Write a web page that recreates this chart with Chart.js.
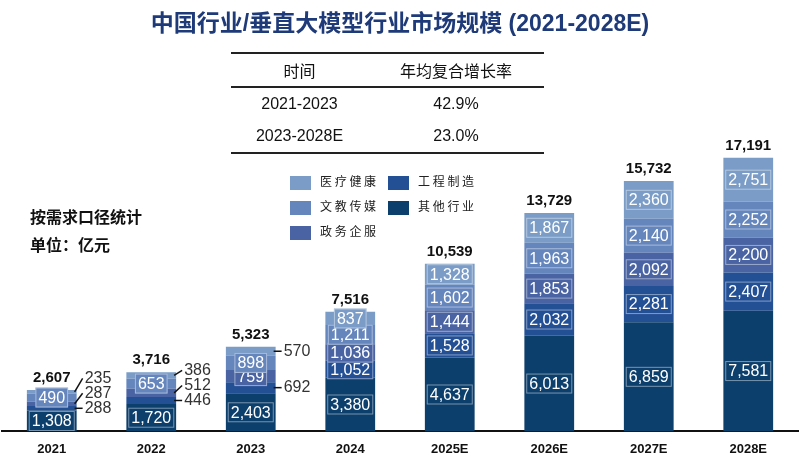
<!DOCTYPE html>
<html><head><meta charset="utf-8">
<script src="https://cdn.jsdelivr.net/npm/chart.js@4/dist/chart.umd.min.js"></script>
<style>
body{margin:0;background:#fff;font-family:"Noto Sans CJK SC","Liberation Sans",sans-serif;}
#wrap{position:relative;width:800px;height:459px;}
canvas{position:absolute;left:0;top:0;}
.t{position:absolute;white-space:nowrap;}
#title{left:0;width:800px;top:4px;text-align:center;font-size:23px;font-weight:bold;color:#1e3a78;font-family:"Liberation Sans","Noto Sans CJK SC",sans-serif;}
table{position:absolute;left:231px;top:52px;width:313px;border-collapse:collapse;font-family:"Liberation Sans","Noto Sans CJK SC",sans-serif;font-size:16px;color:#111;}
td{text-align:center;height:32px;padding:0;}
tr.h td{border-top:2px solid #222;border-bottom:2px solid #222;}
tr.l td{border-bottom:2px solid #222;}
.leg{position:absolute;font-size:12px;color:#222;font-family:"Noto Sans CJK SC",serif;}
.sw{display:inline-block;width:21px;height:14px;vertical-align:middle;margin-right:9px;}
.note{font-size:16px;font-weight:bold;color:#111;font-family:"Noto Sans CJK SC",serif;}
</style></head><body>
<div id="wrap">
<canvas id="c" width="800" height="459"></canvas>
<div id="title" class="t">中国行业/垂直大模型行业市场规模 (2021-2028E)</div>
<table>
<tr class="h"><td>时间</td><td>年均复合增长率</td></tr>
<tr><td>2021-2023</td><td>42.9%</td></tr>
<tr class="l"><td>2023-2028E</td><td>23.0%</td></tr>
</table>
<div id="legend"></div>
<div class="t note" style="left:30px;top:204px">按需求口径统计</div>
<div class="t note" style="left:30px;top:232px">单位：亿元</div>
</div>
<script>
const categories=["2021","2022","2023","2024","2025E","2026E","2027E","2028E"];
const other=[1308,1720,2403,3380,4637,6013,6859,7581];
const engineering=[288,446,692,1052,1528,2032,2281,2407];
const government=[287,512,759,1036,1444,1853,2092,2200];
const education=[490,653,898,1211,1602,1963,2140,2252];
const medical=[235,386,570,837,1328,1867,2360,2751];
const totals=[2607,3716,5323,7516,10539,13729,15732,17191];
const seriesNames=["其他行业","工程制造","政务企服","文教传媒","医疗健康"];
const colors=["#0c3f6c","#234f95","#4a64a3","#6585bd","#7a9cc6"];
const outside={0:[1,2,4],1:[1,2,4],2:[1,4]};

const lg=document.getElementById('legend');
const legPos=[[4,290,172],[3,290,197],[2,290,222],[1,388,172],[0,388,197]];
legPos.forEach(([i,x,y])=>{const d=document.createElement('div');d.className='t leg';d.style.left=x+'px';d.style.top=y+'px';d.innerHTML='<span class="sw" style="background:'+colors[i]+'"></span>'+seriesNames[i].split('').join(' ');lg.appendChild(d);});

const fmt=v=>v.toLocaleString('en-US');
const labelPlugin={id:'lbl',afterDatasetsDraw(ch){
  const c=ch.ctx;c.save();
  c.textBaseline='middle';
  ch.data.labels.forEach((_,j)=>{
    const out=outside[j]||[];let lastY=1e9;
    ch.data.datasets.forEach((ds,i)=>{
      const el=ch.getDatasetMeta(i).data[j];
      const cy=(el.y+el.base)/2;const t=fmt(ds.data[j]);
      c.font='16px "Liberation Sans", Arial';
      if(out.includes(i)){
        let y=Math.min(cy,lastY-15);lastY=y;
        const x0=el.x+el.width/2;
        c.strokeStyle='#111';c.lineWidth=1.5;c.beginPath();c.moveTo(x0-2,cy);c.lineTo(x0+6,y);c.stroke();
        c.fillStyle='#333';c.textAlign='left';c.fillText(t,x0+8,y);
      }else{
        const w=c.measureText(t).width+6;
        c.fillStyle=ds.backgroundColor;c.strokeStyle='rgba(255,255,255,0.45)';c.lineWidth=1;
        c.fillRect(el.x-w/2,cy-10,w,20);c.strokeRect(el.x-w/2+0.5,cy-9.5,w-1,19);
        c.fillStyle='#fff';c.textAlign='center';c.fillText(t,el.x,cy+1);
      }
    });
    const top=ch.getDatasetMeta(4).data[j];
    c.font='bold 15px "Liberation Sans", Arial';c.fillStyle='#111';c.textAlign='center';
    c.fillText(fmt(totals[j]),top.x,top.y-12);
  });
  c.restore();
}};
const data=[other,engineering,government,education,medical];
new Chart(document.getElementById('c'),{type:'bar',
 data:{labels:categories,datasets:data.map((d,i)=>({label:seriesNames[i],data:d,backgroundColor:colors[i],borderWidth:0,categoryPercentage:0.5,barPercentage:1}))},
 options:{responsive:false,animation:false,devicePixelRatio:1,
  layout:{padding:{top:20,left:2,right:2,bottom:0}},
  plugins:{legend:{display:false},tooltip:{enabled:false}},
  scales:{x:{stacked:true,grid:{display:false},border:{color:'#111',width:2},ticks:{color:'#111',font:{size:13,weight:'bold',family:'"Liberation Sans", Arial'},padding:2}},
   y:{stacked:true,display:false,min:0,max:25849}}},
 plugins:[labelPlugin]});
</script>
</body></html>
